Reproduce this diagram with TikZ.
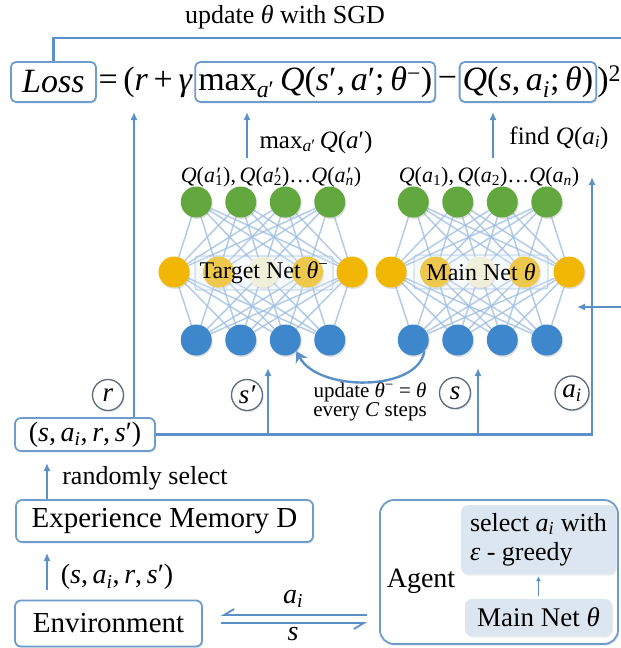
\documentclass[tikz,border=0pt]{standalone}
\usepackage{fontspec}
\setmainfont{Liberation Serif}
\usetikzlibrary{arrows.meta,shadows}

\pgfdeclarelayer{web}
\pgfsetlayers{web,main}

\definecolor{lineblue}{HTML}{5B8FC7}
\definecolor{boxline}{HTML}{6E9CCB}
\definecolor{webblue}{HTML}{9FBFE2}
\definecolor{outgreen}{HTML}{62A83E}
\definecolor{hidyellow}{HTML}{F2B705}
\definecolor{paleyellow}{HTML}{F4F0CF}
\definecolor{inblue}{HTML}{3F87CC}
\definecolor{panelfill}{HTML}{DCE6F0}
\definecolor{labelfill}{HTML}{E6EEF6}
\definecolor{ringgray}{HTML}{5E6B78}

% italic letters, italic subscripts and a stacked prime/subscript
\newcommand\vi[1]{\textit{#1}}
\newcommand\isub[1]{\textsubscript{\textit{#1}}}
\newcommand\prs[1]{\rlap{\textit{′}}\textsubscript{#1}}
\newcommand\eqfont{\fontsize{34pt}{38pt}\selectfont}
\newcommand\fs[1]{\fontsize{#1pt}{#1pt}\selectfont}

\begin{document}
\begin{tikzpicture}[x=1pt,y=-1pt,
  flow/.style={draw=lineblue,line width=2.2pt},
  arr/.style={flow,-{Latex[length=8pt,width=7pt]}},
  softshadow/.style={drop shadow={opacity=0.22,fill=boxline,shadow xshift=1.2pt,shadow yshift=-1.6pt}},
  eqbox/.style={draw=boxline,line width=1.8pt,rounded corners=5pt,fill=white,
    inner xsep=3pt,inner ysep=2pt,minimum height=40pt,font=\eqfont,softshadow},
  eqtext/.style={inner xsep=1.5pt,inner ysep=2pt,minimum height=40pt,font=\eqfont},
  tbox/.style={draw=boxline,line width=1.8pt,rounded corners=6pt,fill=white,inner sep=0pt,softshadow},
  ring/.style={circle,draw=ringgray,line width=1.3pt,fill=white,minimum size=31pt,
    inner sep=0pt,font=\fs{27}\itshape,softshadow},
  neuron/.style={circle,minimum size=31pt,inner sep=0pt,
    drop shadow={opacity=0.25,shadow xshift=1pt,shadow yshift=-1.5pt}},
  web/.style={draw=webblue,line width=1.5pt,opacity=0.8},
  netlabel/.style={draw=webblue,line width=0.8pt,fill=labelfill,fill opacity=0.3,text opacity=1,
    rounded corners=3pt,minimum height=34pt,font=\fs{24}},
  panel/.style={fill=panelfill,rounded corners=7pt,inner sep=0pt,
    drop shadow={opacity=0.15,shadow xshift=1pt,shadow yshift=-1.5pt}},
]
\useasboundingbox (0,0) rectangle (621,648);

% ---------------- loss equation ----------------
\node[font=\fs{26}] (sgd) at (285,17) {update \vi{θ} with SGD};
\node[eqbox,anchor=west,minimum width=85pt] (loss) at (10,82) {\vi{Loss}};
\node[eqtext,anchor=west] (eqa) at (loss.east) {=\,(\vi{r}\,+\,\vi{γ}};
\node[eqbox,anchor=west] (maxq) at (eqa.east)
  {max\textsubscript{\textit{a}′}\,\vi{Q}(\vi{s}′,\,\vi{a}′;\,\vi{θ}\textsuperscript{−})};
\node[eqtext,anchor=west] (eqb) at (maxq.east) {−};
\node[eqbox,anchor=west] (qsa) at (eqb.east) {\vi{Q}(\vi{s},\,\vi{a}\isub{i};\,\vi{θ})};
\node[eqtext,anchor=west,inner xsep=0pt] (eqc) at (qsa.east) {)\textsuperscript{2}};

\coordinate (sgdend) at (621,38);
\draw[flow] (loss.north) |- (sgdend);

% ---------------- the two networks ----------------
\foreach \n/\cx in {t/263,m/480}{
  \foreach \k in {1,...,4}{
    \node[neuron,fill=outgreen] (\n g\k) at ({\cx+(\k-2.5)*44.5},202) {};
    \node[neuron,fill=inblue] (\n b\k) at ({\cx+(\k-2.5)*44.5},340) {};
  }
  \foreach \k/\col in {1/hidyellow,2/hidyellow,3/paleyellow,4/hidyellow,5/hidyellow}{
    \node[neuron,fill=\col] (\n y\k) at ({\cx+(\k-3)*44.5},272) {};
  }
}
\begin{pgfonlayer}{web}
\foreach \n in {t,m}{
  \foreach \i in {1,...,4}{
    \foreach \j in {1,...,5}{
      \draw[web] (\n g\i) -- (\n y\j);
      \draw[web] (\n b\i) -- (\n y\j);
    }
  }
}
\end{pgfonlayer}
\node[netlabel,minimum width=138pt] (tnet) at (264,273) {Target Net \vi{θ}\textsuperscript{−}};
\node[netlabel,minimum width=134pt] (mnet) at (481,272) {Main Net \vi{θ}};

\node[font=\fs{22}] (tq) at (271,177)
  {\vi{Q}(\vi{a}\prs{1}),\,\vi{Q}(\vi{a}\prs{2})…\vi{Q}(\vi{a}\prs{\textit{n}})};
\node[font=\fs{22}] (mq) at (489,177)
  {\vi{Q}(\vi{a}\textsubscript{1}),\,\vi{Q}(\vi{a}\textsubscript{2})…\vi{Q}(\vi{a}\isub{n})};

\node[font=\fs{25}] (maxlbl) at (316,142) {max\textsubscript{\textit{a}′}\,\vi{Q}(\vi{a}′)};
\node[font=\fs{25}] (findlbl) at (559,138) {find \vi{Q}(\vi{a}\isub{i})};

\coordinate (maxtail) at (247,158);
\coordinate (maxtip) at (247,112);
\coordinate (findtail) at (493,158);
\coordinate (findtip) at (493,112);
\draw[arr] (maxtail) -- (maxtip);
\draw[arr] (findtail) -- (findtip);

% target update
\draw[flow,line width=2.4pt,-{Stealth[length=11pt,width=13pt]}]
  (mb1.south east) .. controls (418,392) and (318,392) .. (tb3.south east);
\node[font=\fontsize{21pt}{15pt}\selectfont,align=center] (upd) at (370,402)
  {update \vi{θ}\textsuperscript{−} = \vi{θ}\\every \vi{C} steps};

% input from the right edge into the main net
\coordinate (rightin) at (621,307);
\coordinate (netright) at (577,307);
\draw[arr] (rightin) -- (netright);

% ---------------- sampled transition ----------------
\node[tbox,font=\fs{28},minimum width=140pt,minimum height=33pt] (sars) at (85,434.5)
  {(\vi{s},\,\vi{a}\isub{i},\,\vi{r},\,\vi{s}′)};

\node[ring] (rr) at (108,395) {r};
\node[ring] (rsp) at (247,395) {s′};
\node[ring] (rs) at (455,393) {s};
\node[ring,minimum size=34pt] (rai) at (572,393) {a\isub{i}};

\coordinate (rtip) at (134,112);
\coordinate (sptip) at (268,368);
\coordinate (stip) at (478,368);
\coordinate (aitip) at (592,177);
\draw[arr] (rtip |- sars.north) -- (rtip);
\draw[arr] (sars.east) -| (aitip);
\draw[arr] (sptip |- sars.east) -- (sptip);
\draw[arr] (stip |- sars.east) -- (stip);

\node[font=\fs{26}] (rsel) at (145,478) {randomly select};

% ---------------- memory and environment ----------------
\node[tbox,font=\fs{29},minimum width=297pt,minimum height=42pt] (mem) at (164.5,521)
  {Experience Memory D};
\draw[arr] (mem.north -| 47,0) -- (47,463);

\node[font=\fs{28}] (trans) at (117,577) {(\vi{s},\,\vi{a}\isub{i},\,\vi{r},\,\vi{s}′)};
\coordinate (transtail) at (47,590);
\draw[arr] (transtail) -- ([yshift=-10pt]mem.south -| transtail);

\node[tbox,font=\fs{29},minimum width=187pt,minimum height=46pt] (env) at (108.5,623.5)
  {Environment};

% ---------------- agent ----------------
\node[tbox,rounded corners=14pt,minimum width=238pt,minimum height=144pt] (agent) at (499,572) {};
\node[font=\fs{28}] (agentlbl) at (421,581) {Agent};
\node[panel,minimum width=155pt,minimum height=69pt,font=\fontsize{26pt}{29pt}\selectfont,
  align=left] (selp) at (538.5,539.5) {select \vi{a}\isub{i} with\\\vi{ε} - greedy};
\node[panel,minimum width=147pt,minimum height=37pt,font=\fs{27}] (mainp) at (538.5,617.5)
  {Main Net \vi{θ}};
\draw[draw=lineblue,line width=1.6pt,-{Latex[length=5pt,width=5pt]},shorten <=3pt,shorten >=2pt]
  (mainp.north) -- (selp.south);

% action / state exchange
\draw[flow,line width=1.8pt,-{Straight Barb[harpoon,swap,length=10pt,width=12pt]},
  shorten <=12pt,shorten >=18pt] (agent.west |- 0,615) -- (env.east |- 0,615);
\draw[flow,line width=1.8pt,-{Straight Barb[harpoon,swap,length=10pt,width=12pt]},
  shorten <=18pt,shorten >=12pt] (env.east |- 0,623) -- (agent.west |- 0,623);
\node[font=\fs{28}\itshape] (alab) at (293,599) {a\isub{i}};
\node[font=\fs{28}\itshape] (slab) at (293,634) {s};
\end{tikzpicture}
\end{document}
